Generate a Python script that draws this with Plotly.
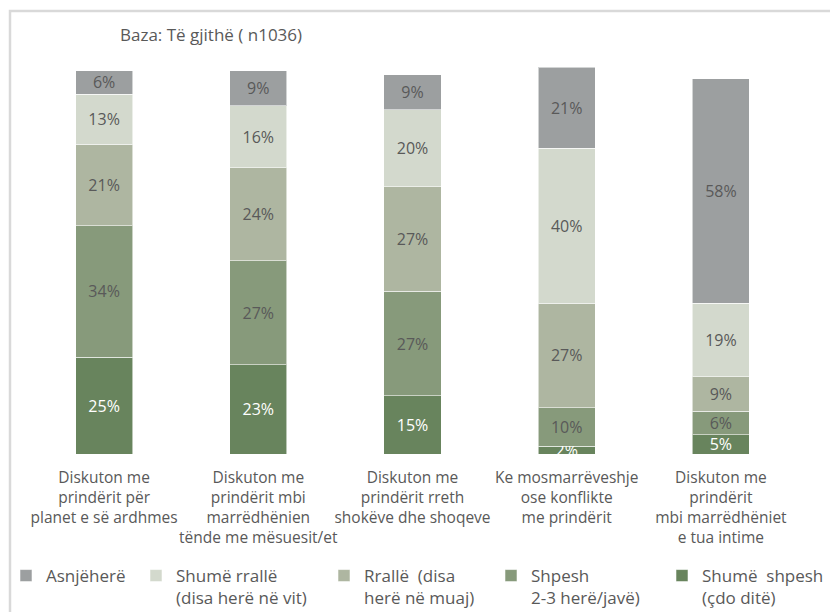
import plotly.graph_objects as go

# DATA ##########################################################################

categories = [
    "Diskuton me<br>prindërit për<br>planet e së ardhmes",
    "Diskuton me<br>prindërit mbi<br>marrëdhënien<br>tënde me mësuesit/et",
    "Diskuton me<br>prindërit rreth<br>shokëve dhe shoqeve",
    "Ke mosmarrëveshje<br>ose konflikte<br>me prindërit",
    "Diskuton me<br>prindërit<br>mbi marrëdhëniet<br>e tua intime",
]

# stacked from the bottom up
shume_shpesh = [25, 23, 15, 2, 5]
shpesh = [34, 27, 27, 10, 6]
ralle = [21, 24, 27, 27, 9]
shume_ralle = [13, 16, 20, 40, 19]
asnjehere = [6, 9, 9, 21, 58]

series_names = [
    "Shumë  shpesh<br>(çdo ditë)",
    "Shpesh<br>2-3 herë/javë)",
    "Rrallë  (disa<br>herë në muaj)",
    "Shumë rrallë<br>(disa herë në vit)",
    "Asnjëherë",
]
series_values = [shume_shpesh, shpesh, ralle, shume_ralle, asnjehere]

# STYLE #########################################################################

colors = ["#68845D", "#879A7B", "#AEB6A1", "#D3D9CD", "#9C9FA0"]
text_colors = ["white", "#595959", "#595959", "#595959", "#595959"]
FONT = "'Open Sans', sans-serif"
GREY = "#595959"

W, H = 838, 612
# the page body has an 8px margin, so the figure sits 8px right/down
ML, MR, MT, MB = 19, 48, 59, 166
plot_w = W - ML - MR
plot_h = H - MT - MB
BOTTOM = MT + plot_h

# legend text left edges in figure pixels (one legend per series)
legend_px = [694, 523, 356, 168, 38]
LEGEND_TEXT_OFFSET = 40

fig = go.Figure()

for i, (name, vals) in enumerate(zip(series_names, series_values)):
    fig.add_trace(go.Bar(
        x=categories,
        y=vals,
        name=name,
        marker=dict(color=colors[i], line=dict(color="rgba(255,255,255,0.55)", width=1)),
        text=[f"{v}%" for v in vals],
        textposition="inside",
        insidetextanchor="middle",
        textangle=0,
        constraintext="none",
        textfont=dict(family=FONT, size=16, color=text_colors[i]),
        legend="legend" if i == 0 else f"legend{i + 1}",
        hoverinfo="skip",
    ))

legend_y = (BOTTOM - 550) / plot_h
legends = {}
for i, px in enumerate(legend_px):
    key = "legend" if i == 0 else f"legend{i + 1}"
    legends[key] = dict(
        x=(px - LEGEND_TEXT_OFFSET - ML) / plot_w,
        xanchor="left",
        y=legend_y,
        yanchor="top",
        orientation="h",
        valign="top",
        font=dict(family=FONT, size=17, color=GREY),
        bgcolor="rgba(0,0,0,0)",
        itemwidth=30,
    )

fig.update_layout(
    width=W,
    height=H,
    margin=dict(l=ML, r=MR, t=MT, b=MB, autoexpand=False),
    paper_bgcolor="white",
    plot_bgcolor="white",
    barmode="stack",
    bargap=0.63,
    showlegend=True,
    font=dict(family=FONT, size=15.5, color=GREY),
    xaxis=dict(
        showgrid=False,
        showline=False,
        ticks="",
        tickangle=0,
        automargin=False,
        ticklabelstandoff=12,
        tickfont=dict(family=FONT, size=15.5, color=GREY),
        fixedrange=True,
    ),
    yaxis=dict(
        range=[0, 100],
        visible=False,
        automargin=False,
        fixedrange=True,
    ),
    annotations=[dict(
        text="Baza: Të gjithë ( n1036)",
        xref="paper", yref="paper",
        x=(110 - ML) / plot_w, y=(BOTTOM - 27) / plot_h,
        xanchor="left", yanchor="middle",
        showarrow=False,
        font=dict(family=FONT, size=17, color=GREY),
    )],
    # light frame round the chart, like the copied chart area
    shapes=[dict(
        type="rect", xref="paper", yref="paper",
        x0=(2 - ML) / plot_w, x1=1.2,
        y0=-0.6, y1=(BOTTOM - 3) / plot_h,
        line=dict(color="#D9D9D9", width=2.5),
        layer="below",
    )],
    **legends,
)

fig.write_html("out.html")
